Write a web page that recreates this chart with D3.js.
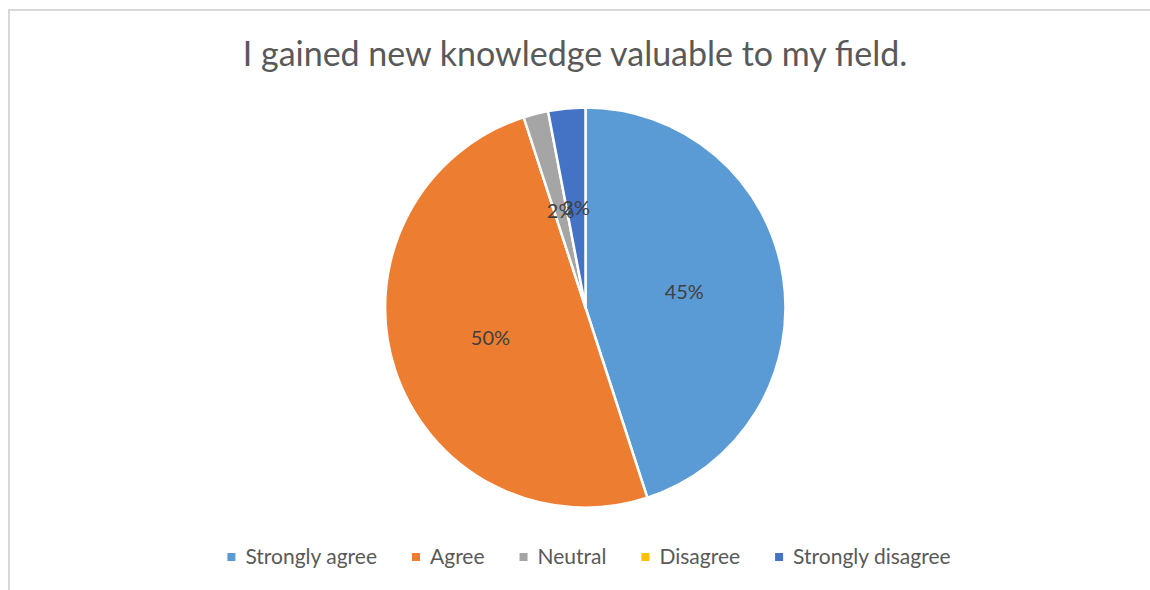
<!DOCTYPE html>
<html>
  <head>
    <meta charset="utf-8">
    <title>I gained new knowledge valuable to my field.</title>
    <script src="https://d3js.org/d3.v7.min.js"></script>
    <style>
      body { margin: 0; background: #fff; }
      text { font-family: Lato, "Open Sans", sans-serif; }
    </style>
  </head>
  <body>
    <div id="chart"></div>
    <script>
      const categories = ["Strongly agree", "Agree", "Neutral", "Disagree", "Strongly disagree"];
      const values = [45, 50, 2, 0, 3];
      const labels = ["45%", "50%", "2%", "0%", "3%"];
      const colors = ["#5b9bd5", "#ed7d31", "#a5a5a5", "#ffc000", "#4472c4"];

      const width = 1150, height = 590;
      const svg = d3.select("#chart").append("svg")
          .attr("width", width)
          .attr("height", height);

      // chart frame (only top/left edges visible in the crop)
      svg.append("rect")
          .attr("x", 9).attr("y", 10)
          .attr("width", width + 20).attr("height", height + 20)
          .attr("fill", "none")
          .attr("stroke", "#d9d9d9")
          .attr("stroke-width", 2);

      svg.append("text")
          .attr("x", 575).attr("y", 66)
          .attr("text-anchor", "middle")
          .attr("font-size", 34)
          .attr("fill", "#595959")
          .text("I gained new knowledge valuable to my field.");

      const cx = 585.5, cy = 307.5, r = 200;
      const color = d3.scaleOrdinal().domain(categories).range(colors);
      const pie = d3.pie().sort(null).value(d => d.v);
      const data = pie(categories.map((c, i) => ({c: c, v: values[i], l: labels[i]})));
      const arc = d3.arc().innerRadius(0).outerRadius(r);
      const labelArc = d3.arc().innerRadius(r * 0.5).outerRadius(r * 0.5);

      const g = svg.append("g").attr("transform", `translate(${cx},${cy})`);
      g.selectAll("path")
          .data(data.filter(d => d.data.v > 0))
          .enter().append("path")
          .attr("d", arc)
          .attr("fill", d => color(d.data.c))
          .attr("stroke", "#fff")
          .attr("stroke-width", 2.5)
          .attr("stroke-linejoin", "round");

      g.selectAll(".lbl")
          .data(data.filter(d => d.data.v > 0))
          .enter().append("text")
          .attr("class", "lbl")
          .attr("transform", d => `translate(${labelArc.centroid(d)})`)
          .attr("text-anchor", "middle")
          .attr("dy", "0.35em")
          .attr("font-size", 20)
          .attr("fill", "#404040")
          .text(d => d.data.l);

      // legend
      const legend = svg.append("g");
      const items = legend.selectAll("g")
          .data(categories)
          .enter().append("g");
      items.append("rect")
          .attr("width", 8).attr("height", 8)
          .attr("y", -4)
          .attr("fill", d => color(d));
      items.append("text")
          .attr("x", 18)
          .attr("dy", "0.35em")
          .attr("font-size", 21)
          .attr("fill", "#595959")
          .text(d => d);

      let x = 0;
      items.each(function() {
        d3.select(this).attr("transform", `translate(${x},557)`);
        x += 18 + this.querySelector("text").getComputedTextLength() + 35;
      });
      const total = x - 35;
      legend.attr("transform", `translate(${589 - total / 2},0)`);
    </script>
  </body>
</html>
